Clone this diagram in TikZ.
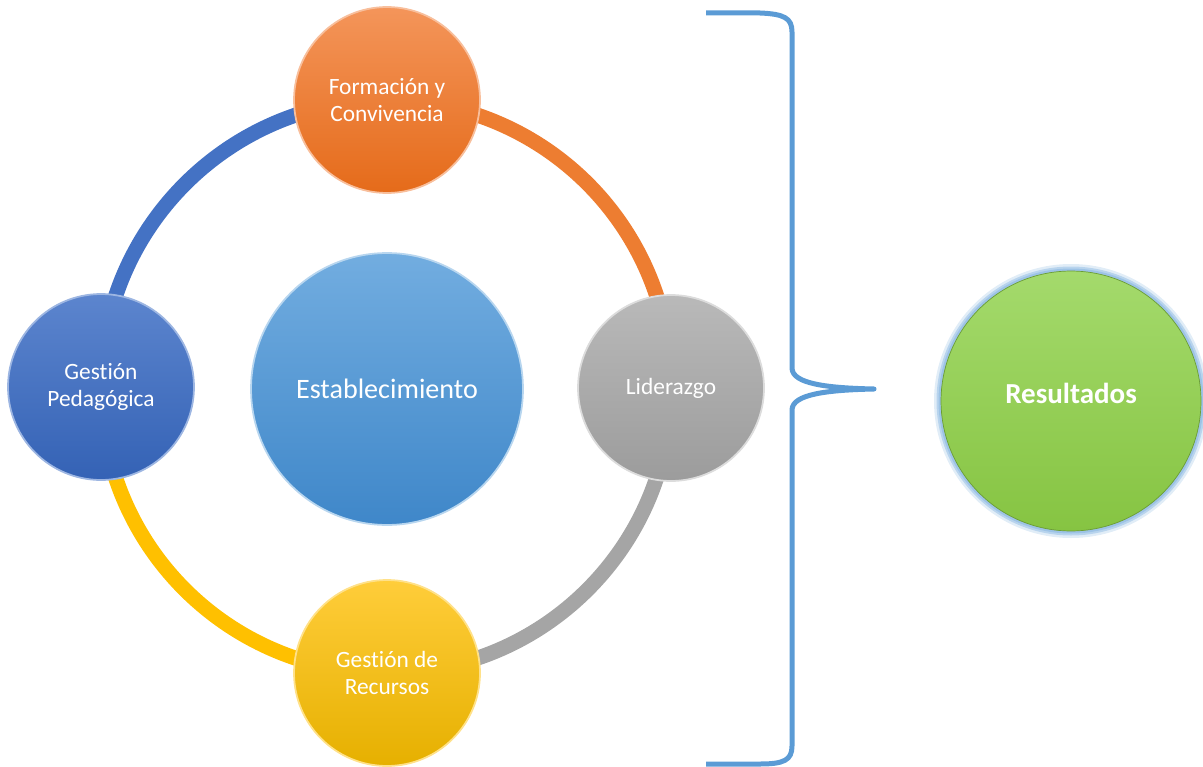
\documentclass[tikz,border=0pt]{standalone}
\usepackage{fontspec}
\setmainfont[Ligatures={NoCommon}]{Carlito}
\usetikzlibrary{backgrounds}
\definecolor{cOrT}{HTML}{F4955A}\definecolor{cOrB}{HTML}{E56B1A}\definecolor{cOr}{HTML}{ED7D31}
\definecolor{cGrT}{HTML}{B9B9B9}\definecolor{cGrB}{HTML}{9C9C9C}\definecolor{cGr}{HTML}{A5A5A5}
\definecolor{cBlT}{HTML}{5C85CE}\definecolor{cBlB}{HTML}{3462B5}\definecolor{cBl}{HTML}{4472C4}
\definecolor{cYeT}{HTML}{FFCD3A}\definecolor{cYeB}{HTML}{E6B000}\definecolor{cYe}{HTML}{FFC000}
\definecolor{cEsT}{HTML}{72ADE0}\definecolor{cEsB}{HTML}{3F87C9}
\definecolor{cGnT}{HTML}{A4DA6C}\definecolor{cGnB}{HTML}{86C442}
\definecolor{cBrace}{HTML}{5B9BD5}\definecolor{cGlow}{HTML}{9DC3E6}
\tikzset{
  ball/.style={circle, shading=axis, shading angle=0, text=white, align=center, inner sep=0pt},
  small/.style={ball, minimum size=3.72cm, font=\fontsize{13.3}{15}\selectfont},
  ringarc/.style={line width=0.3cm},
}
\begin{document}
\begin{tikzpicture}[x=0.02cm,y=0.02cm]
\useasboundingbox (0,0) rectangle (1203,-767);
% nodes
\node[small, top color=cOrT, bottom color=cOrB, draw=cOrT!60!white, line width=1pt] (form) at (387,-100) {Formación y\\Convivencia};
\node[small, top color=cGrT, bottom color=cGrB, draw=cGrT!50!white, line width=1pt] (lid) at (671,-388) {Liderazgo};
\node[small, top color=cBlT, bottom color=cBlB, draw=cBlT!60!white, line width=1pt] (ped) at (101,-387) {Gestión\\Pedagógica};
\node[small, top color=cYeT, bottom color=cYeB, draw=cYeT!60!white, line width=1pt] (rec) at (387,-673) {Gestión de\\Recursos};
\node[ball, minimum size=5.44cm, top color=cEsT, bottom color=cEsB, draw=cEsT!50!white, line width=1pt, font=\fontsize{16}{19}\selectfont] (est) at (387,-389) {Establecimiento};
% ring arcs
\begin{scope}[on background layer]
  \draw[ringarc, cBl] (ped.center) to[bend left=45] (form.center);
  \draw[ringarc, cOr] (form.center) to[bend left=45] (lid.center);
  \draw[ringarc, cGr] (lid.center) to[bend left=45] (rec.center);
  \draw[ringarc, cYe] (rec.center) to[bend left=45] (ped.center);
\end{scope}
% resultados
\fill[cGlow, opacity=0.3] (1071,-401) circle (137);
\fill[cGlow, opacity=0.6] (1071,-401) circle (134.5);
\fill[cGlow] (1071,-401) circle (132.5);
\node[ball, minimum size=5.2cm, top color=cGnT, bottom color=cGnB, draw=cGnB!80!black, line width=0.4pt,
  label={[text=white, font=\bfseries\fontsize{16.5}{19}\selectfont, yshift=0.16cm]center:Resultados}] (res) at (1071,-401) {};
% brace
\coordinate (tip) at (874,-389);
\draw[cBrace, line width=0.1cm, line join=round]
  (706,-13) -- (760,-13) .. controls (784,-14) and (792,-18) .. (792,-32)
  -- (792,-368) .. controls (792,-384) and (828,-388) .. (tip)
  .. controls (828,-390) and (792,-394) .. (792,-410)
  -- (792,-746) .. controls (792,-760) and (784,-764) .. (760,-764) -- (706,-764);
\end{tikzpicture}
\end{document}
